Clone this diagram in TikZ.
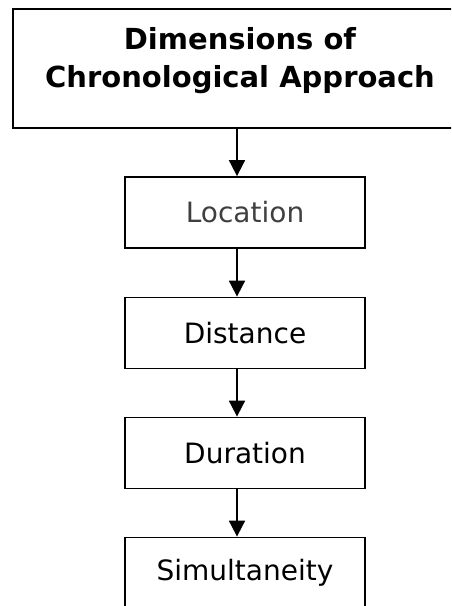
\documentclass[tikz,border=0pt]{standalone}
\usepackage{fontspec}
\setmainfont{DejaVu Sans}
\usetikzlibrary{arrows.meta,calc}
\begin{document}
\begin{tikzpicture}[x=1pt,y=-1pt,
  frame/.style={draw=black,line width=1.8pt,fill=white,inner sep=0pt},
  stepbox/.style={frame,minimum width=240pt,minimum height=71pt,font=\fontsize{28}{34}\selectfont},
  arr/.style={line width=1.8pt,-{Triangle[length=16pt,width=16pt]}}
]
\useasboundingbox (0,0) rectangle (451,606);
\clip (0,0) rectangle (451,606);
\node[frame,minimum width=454pt,minimum height=119pt] (title) at (240,68.5) {};
\node[font=\fontsize{29}{38}\selectfont\bfseries,align=center] (titletext) at (240,61) {Dimensions of\\Chronological Approach};
\node[stepbox,text=black!75] (loc) at (245,212.5) {Location};
\node[stepbox] (dist) at (245,333) {Distance};
\node[stepbox] (dur) at (245,453) {Duration};
\node[stepbox] (sim) at (245,573) {Simultaneity};
\coordinate (ax) at (237,0);
\draw[arr] (title.south -| ax) -- (loc.north -| ax);
\draw[arr] (loc.south -| ax) -- (dist.north -| ax);
\draw[arr] (dist.south -| ax) -- (dur.north -| ax);
\draw[arr] (dur.south -| ax) -- (sim.north -| ax);
\end{tikzpicture}
\end{document}
